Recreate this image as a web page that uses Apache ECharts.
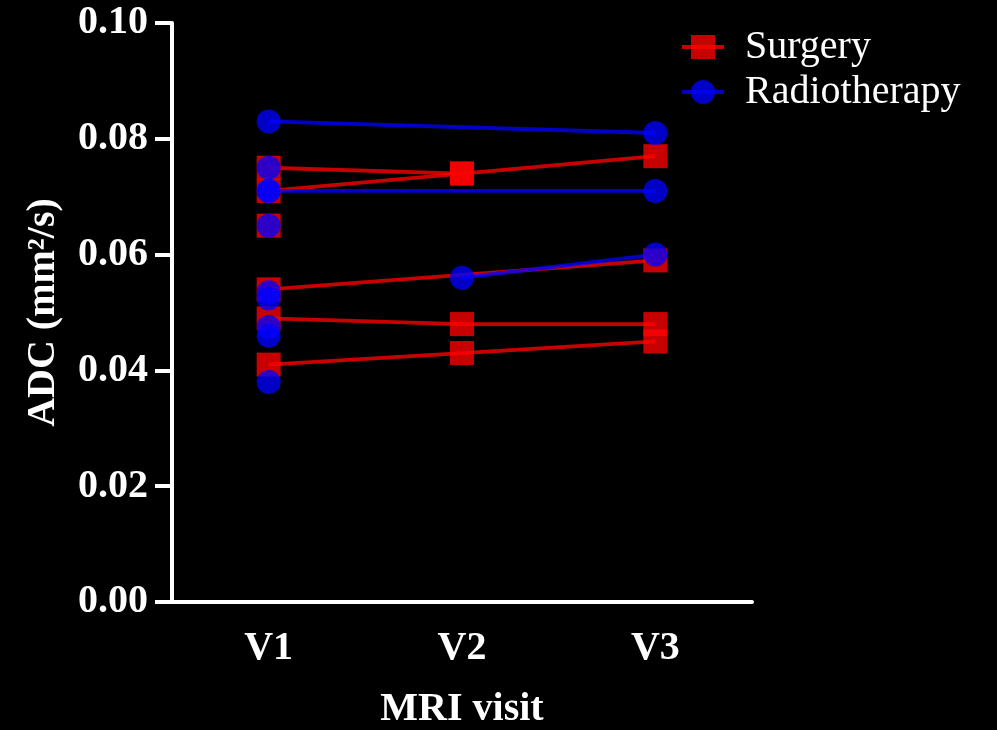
<!DOCTYPE html>
<html>
<head>
<meta charset="utf-8">
<script src="https://cdn.jsdelivr.net/npm/echarts@6/dist/echarts.min.js"></script>
<style>
html,body{margin:0;padding:0;background:#000;}
#c{width:997px;height:730px;}
</style>
</head>
<body>
<div id="c"></div>
<script>
var categories = ['V1', 'V2', 'V3'];
var yTicks = [0, 0.02, 0.04, 0.06, 0.08, 0.10];

// Surgery: one entry per patient (V1, V2, V3)
var surgeryV1 = [0.075, 0.071, 0.065, 0.054, 0.049, 0.041];
var surgeryV2 = [0.074, 0.074, null, null, 0.048, 0.043];
var surgeryV3 = [null, 0.077, null, 0.059, 0.048, 0.045];

// Radiotherapy: one entry per patient (V1, V2, V3)
var radioV1 = [0.083, 0.075, 0.071, 0.071, 0.065, 0.0535, 0.0524, 0.0475, 0.046, 0.038, null];
var radioV2 = [null, null, null, null, null, null, null, null, null, null, 0.056];
var radioV3 = [0.081, null, 0.071, null, null, null, null, null, null, null, 0.060];

var FONT = "'Liberation Serif', 'Times New Roman', serif";
var RED = 'rgba(255,0,0,0.78)';
var BLUE = 'rgba(0,0,255,0.78)';

function buildSeries(name, v1, v2, v3, symbol, color) {
  var out = [];
  for (var i = 0; i < v1.length; i++) {
    out.push({
      name: name,
      type: 'line',
      data: [v1[i], v2[i], v3[i]],
      connectNulls: true,
      symbol: symbol,
      symbolSize: 24,
      showSymbol: true,
      itemStyle: { color: color, opacity: 1 },
      lineStyle: { color: color, width: 3.8 },
      emphasis: { disabled: true },
      silent: true
    });
  }
  return out;
}

var series = buildSeries('Surgery', surgeryV1, surgeryV2, surgeryV3, 'rect', RED)
  .concat(buildSeries('Radiotherapy', radioV1, radioV2, radioV3, 'circle', BLUE));

var chart = echarts.init(document.getElementById('c'));
chart.setOption({
  backgroundColor: '#000',
  animation: false,
  grid: { left: 172, right: 245, top: 23, bottom: 128, containLabel: false, outerBoundsMode: 'none' },
  legend: {
    data: ['Surgery', 'Radiotherapy'],
    orient: 'vertical',
    left: 680,
    top: 27,
    padding: 0,
    itemWidth: 42,
    itemHeight: 30,
    itemGap: 5,
    lineStyle: { width: 4 },
    textStyle: { color: '#fff', fontFamily: FONT, fontSize: 40, padding: [0, 0, 0, 16] }
  },
  xAxis: {
    type: 'category',
    data: categories,
    boundaryGap: true,
    name: 'MRI visit',
    nameLocation: 'middle',
    nameGap: 88,
    nameTextStyle: { color: '#fff', fontFamily: FONT, fontSize: 40, fontWeight: 'bold' },
    axisLine: { lineStyle: { color: '#fff', width: 4 } },
    axisTick: { alignWithLabel: true, length: 13, lineStyle: { color: '#fff', width: 4 } },
    axisLabel: { color: '#fff', fontFamily: FONT, fontSize: 40, fontWeight: 'bold', margin: 27 },
    splitLine: { show: false }
  },
  yAxis: {
    type: 'value',
    min: yTicks[0],
    max: yTicks[yTicks.length - 1],
    interval: 0.02,
    name: 'ADC (mm\u00B2/s)',
    nameLocation: 'middle',
    nameRotate: 90,
    nameGap: 108,
    nameTextStyle: { color: '#fff', fontFamily: FONT, fontSize: 40, fontWeight: 'bold' },
    axisLine: { show: true, lineStyle: { color: '#fff', width: 4 } },
    axisTick: { show: true, inside: false, length: 17, lineStyle: { color: '#fff', width: 4 } },
    axisLabel: {
      color: '#fff', fontFamily: FONT, fontSize: 40, fontWeight: 'bold', margin: 24,
      formatter: function (v) { return v.toFixed(2); }
    },
    splitLine: { show: false }
  },
  series: series
});
</script>
</body>
</html>
